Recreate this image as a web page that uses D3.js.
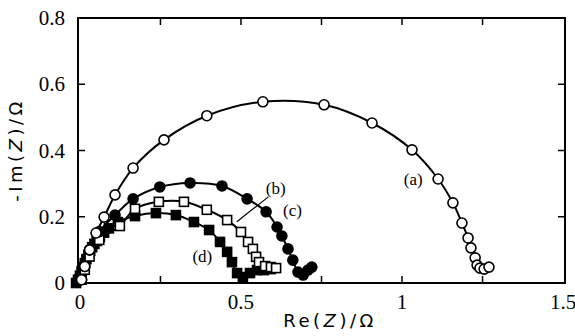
<!DOCTYPE html>
<html>
<head>
<meta charset="utf-8">
<script src="https://cdn.jsdelivr.net/npm/d3@7"></script>
<style>
  body { margin: 0; background: #fff; }
  svg { display: block; }
</style>
</head>
<body>
<svg width="575" height="336"></svg>
<script>
var svg = d3.select("svg");

// (a) open circles
var reA = [0.005, 0.015, 0.03, 0.050, 0.075, 0.109, 0.165, 0.261, 0.394, 0.568, 0.758, 0.907, 1.031, 1.112, 1.158, 1.186, 1.205, 1.214, 1.227, 1.233, 1.242, 1.255, 1.270];
var imA = [0.01, 0.05, 0.10, 0.151, 0.199, 0.266, 0.347, 0.432, 0.505, 0.547, 0.538, 0.483, 0.402, 0.314, 0.242, 0.181, 0.136, 0.106, 0.076, 0.054, 0.045, 0.042, 0.048];
// (b) filled circles
var reB = [0.005, 0.015, 0.03, 0.06, 0.109, 0.165, 0.248, 0.342, 0.441, 0.519, 0.578, 0.612, 0.627, 0.646, 0.661, 0.677, 0.693, 0.708, 0.720];
var imB = [0.01, 0.05, 0.10, 0.155, 0.205, 0.254, 0.290, 0.302, 0.293, 0.254, 0.215, 0.169, 0.142, 0.103, 0.069, 0.033, 0.024, 0.039, 0.048];
// (c) open squares
var reC = [0.005, 0.015, 0.03, 0.06, 0.124, 0.171, 0.245, 0.323, 0.394, 0.457, 0.500, 0.522, 0.537, 0.547, 0.556, 0.575, 0.593, 0.609];
var imC = [0.01, 0.04, 0.08, 0.13, 0.172, 0.224, 0.245, 0.245, 0.221, 0.190, 0.154, 0.124, 0.103, 0.079, 0.063, 0.051, 0.048, 0.045];
// (d) filled squares
var reD = [-0.012, -0.006, 0.0, 0.005, 0.010, 0.015, 0.020, 0.026, 0.032, 0.038, 0.045, 0.052, 0.062, 0.075, 0.090, 0.118, 0.171, 0.236, 0.298, 0.354, 0.401, 0.435, 0.457, 0.472, 0.488, 0.506, 0.528, 0.550, 0.571, 0.593];
var imD = [0.0, 0.01, 0.022, 0.035, 0.048, 0.060, 0.072, 0.085, 0.097, 0.108, 0.118, 0.127, 0.139, 0.152, 0.165, 0.184, 0.202, 0.211, 0.205, 0.184, 0.160, 0.124, 0.094, 0.063, 0.030, 0.018, 0.030, 0.039, 0.039, 0.042];

var xMajor = [0, 0.5, 1, 1.5];
var xMinor = [0.25, 0.5, 0.75, 1, 1.25];
var yMajor = [0, 0.2, 0.4, 0.6, 0.8];
var yMinor = [0.2, 0.4, 0.6];

var pLeft = 78, pRight = 565, pTop = 18, pBottom = 283;

var x = d3.scaleLinear().domain([-0.006, 1.506]).range([pLeft, pRight]);
var y = d3.scaleLinear().domain([0, 0.8]).range([pBottom, pTop]);

function zip(xs, ys) {
  return xs.map(function(v, i) { return [v, ys[i]]; });
}

var series = [
  {id: "a", pts: zip(reA, imA), shape: "circle", fill: "#fff"},
  {id: "b", pts: zip(reB, imB), shape: "circle", fill: "#000"},
  {id: "c", pts: zip(reC, imC), shape: "square", fill: "#fff"},
  {id: "d", pts: zip(reD, imD), shape: "square", fill: "#000"}
];

// frame
svg.append("rect")
  .attr("x", pLeft).attr("y", pTop)
  .attr("width", pRight - pLeft).attr("height", pBottom - pTop)
  .attr("fill", "none").attr("stroke", "#000").attr("stroke-width", 2);

// inward ticks
var tk = 7;
svg.append("g").selectAll("line").data(xMinor).enter().append("line")
  .attr("x1", function(d) { return x(d); }).attr("x2", function(d) { return x(d); })
  .attr("y1", pBottom).attr("y2", pBottom - tk)
  .attr("stroke", "#000").attr("stroke-width", 1.5);
svg.append("g").selectAll("line").data(xMinor).enter().append("line")
  .attr("x1", function(d) { return x(d); }).attr("x2", function(d) { return x(d); })
  .attr("y1", pTop).attr("y2", pTop + tk)
  .attr("stroke", "#000").attr("stroke-width", 1.5);
svg.append("g").selectAll("line").data(yMinor).enter().append("line")
  .attr("x1", pLeft).attr("x2", pLeft + tk)
  .attr("y1", function(d) { return y(d); }).attr("y2", function(d) { return y(d); })
  .attr("stroke", "#000").attr("stroke-width", 1.5);
svg.append("g").selectAll("line").data(yMinor).enter().append("line")
  .attr("x1", pRight).attr("x2", pRight - tk)
  .attr("y1", function(d) { return y(d); }).attr("y2", function(d) { return y(d); })
  .attr("stroke", "#000").attr("stroke-width", 1.5);

// tick labels
var fmt = function(d) { return d === 0 ? "0" : String(d); };
svg.append("g").selectAll("text").data(xMajor).enter().append("text")
  .attr("x", function(d) { return x(d); })
  .attr("y", 309)
  .attr("text-anchor", "middle")
  .attr("font-family", "Liberation Serif, serif")
  .attr("font-size", 21)
  .text(fmt);
svg.append("g").selectAll("text").data(yMajor).enter().append("text")
  .attr("x", 65)
  .attr("y", function(d) { return y(d) + 7; })
  .attr("text-anchor", "end")
  .attr("font-family", "Liberation Serif, serif")
  .attr("font-size", 21)
  .text(fmt);

// axis titles
var xt = svg.append("text")
  .attr("x", 330).attr("y", 327)
  .attr("text-anchor", "middle")
  .attr("font-family", "DejaVu Sans, sans-serif")
  .attr("font-size", 18)
  .attr("letter-spacing", 3.5);
xt.append("tspan").text("Re(");
xt.append("tspan").attr("font-style", "italic").text("Z");
xt.append("tspan").text(")/Ω");

var yt = svg.append("text")
  .attr("transform", "translate(22,150) rotate(-90)")
  .attr("text-anchor", "middle")
  .attr("font-family", "DejaVu Sans, sans-serif")
  .attr("font-size", 18)
  .attr("letter-spacing", 3.5);
yt.append("tspan").text("-Im(");
yt.append("tspan").attr("font-style", "italic").text("Z");
yt.append("tspan").text(")/Ω");

// curves
var line = d3.line()
  .x(function(d) { return x(d[0]); })
  .y(function(d) { return y(d[1]); })
  .curve(d3.curveCatmullRom.alpha(0.5));

var g = svg.append("g");
series.forEach(function(s) {
  g.append("path")
    .datum(s.pts)
    .attr("d", line)
    .attr("fill", "none")
    .attr("stroke", "#000")
    .attr("stroke-width", 2);
});

// markers
series.slice().reverse().forEach(function(s) {
  var m = g.append("g").selectAll(s.shape === "circle" ? "circle" : "rect")
    .data(s.pts).enter();
  if (s.shape === "circle") {
    m.append("circle")
      .attr("cx", function(d) { return x(d[0]); })
      .attr("cy", function(d) { return y(d[1]); })
      .attr("r", 5)
      .attr("fill", s.fill).attr("stroke", "#000").attr("stroke-width", 1.6);
  } else {
    m.append("rect")
      .attr("x", function(d) { return x(d[0]) - 4.5; })
      .attr("y", function(d) { return y(d[1]) - 4.5; })
      .attr("width", 9).attr("height", 9)
      .attr("fill", s.fill).attr("stroke", "#000").attr("stroke-width", 1.6);
  }
});

// series labels
var labels = [
  {t: "(a)", re: 1.035, im: 0.297},
  {t: "(b)", re: 0.608, im: 0.268},
  {t: "(c)", re: 0.66, im: 0.203},
  {t: "(d)", re: 0.38, im: 0.063}
];
svg.append("g").selectAll("text").data(labels).enter().append("text")
  .attr("x", function(d) { return x(d.re); })
  .attr("y", function(d) { return y(d.im); })
  .attr("text-anchor", "middle")
  .attr("font-family", "Liberation Serif, serif")
  .attr("font-size", 17)
  .text(function(d) { return d.t; });

// leader from (b)
svg.append("line")
  .attr("x1", x(0.585)).attr("y1", y(0.26))
  .attr("x2", x(0.487)).attr("y2", y(0.185))
  .attr("stroke", "#000").attr("stroke-width", 1.2);
</script>
</body>
</html>
